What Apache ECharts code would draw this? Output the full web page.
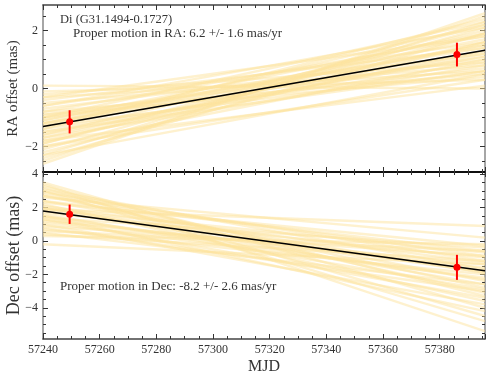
<!DOCTYPE html>
<html>
<head>
<meta charset="utf-8">
<script src="https://cdn.jsdelivr.net/npm/echarts@6/dist/echarts.min.js"></script>
<style>
  html, body { margin: 0; padding: 0; background: #fff; }
  #chart { width: 491px; height: 381px; }
</style>
</head>
<body>
<div id="chart"></div>
<script>
// 观测历元 (MJD) 和偏移量
const epochs = [57249.4, 57386.1];
const raOffset = [-1.15, 1.17];
const raErr = [0.4, 0.41];
const decOffset = [1.6, -1.58];
const decErr = [0.58, 0.75];

// 最佳拟合直线，取坐标轴两端的值
const mjdRange = [57240, 57396];
const raFit = [-1.31, 1.32];
const decFit = [1.8, -1.78];

// MCMC 样本直线：左端 (57240) 和右端 (57396) 的值
const raFanStart = [-1.3, -1.1, -1.5, -0.9, -1.7, -1.2, -1.4, -0.7, -1.9, -1.0, -1.6, -0.5, -2.1, -1.3, -0.8, -1.8,
  -0.3, -2.3, -1.1, -1.5, -0.6, -2.0, -1.2, -0.1, -2.5, -1.4, -0.9, -1.7, 0.1, -2.6, -1.0, -1.6, -0.4, -2.2, -1.3,
  -0.2, -2.4, -1.2, -0.8, -1.9, -0.3, -0.6, -2.3, -1.8, -1.0, -2.0];
const raFanEnd = [1.3, 1.5, 1.1, 1.0, 1.6, 1.7, 0.9, 1.2, 1.9, 0.7, 2.0, 0.8, 2.1, 2.2, 0.5, 1.3,
  0.6, 2.3, 1.9, 0.6, 1.6, 1.0, 1.1, 0.3, 2.5, 2.4, 0.4, 0.8, 0.0, 2.6, 1.4, 1.2, 1.4, 1.6, 0.6,
  0.9, 1.9, 1.5, 1.8, 2.2, 1.8, 2.1, 0.5, 0.1, 2.3, 0.3];
const decFanStart = [1.8, 2.1, 1.5, 2.4, 1.2, 2.7, 0.9, 3.0, 0.6, 3.3, 1.9, 1.6, 2.3, 1.3, 2.9, 0.7, 3.5, 0.3, 2.6, 1.0,
  2.0, 1.7, 3.2, -0.2, 1.9, 3.4, 1.4, 2.8, 0.5, 2.2, 1.1, 3.1, 0.8, 2.4, 1.5, 2.0, 2.7, 1.3, 3.0, 0.4];
const decFanEnd = [-1.8, -1.3, -2.3, -1.9, -1.4, -2.4, -0.9, -2.8, -0.6, -3.3, -0.7, -2.9, -0.3, -3.4, -1.2, -2.0, -4.0, -0.2, 0.2, -3.8,
  -2.6, -1.0, -4.5, -1.4, 0.9, -5.4, -0.4, -3.1, -2.6, -3.6, -2.2, -1.7, -3.0, -0.6, -4.2, -1.9, -0.9, -1.6, -4.8, -1.2];

// 刻度
const raRange = [-2.88, 2.88];
const decRange = [-5.87, 4.13];
const raTicks = [-2, 0, 2];
const raMinorTicks = [-2.5, -1.5, -1, -0.5, 0.5, 1, 1.5, 2.5];
const decTicks = [-4, -2, 0, 2, 4];
const decMinorTicks = [-5.5, -5, -4.5, -3.5, -3, -2.5, -1.5, -1, -0.5, 0.5, 1, 1.5, 2.5, 3, 3.5];

const serif = "'Liberation Serif', 'DejaVu Serif', serif";
const textColor = '#333';
const fanColor = '#fde39e';

const chart = echarts.init(document.getElementById('chart'));

function fanData(starts, ends) {
  return starts.map((s, i) => [mjdRange[0], s, mjdRange[1], ends[i]]);
}

function errData(values, errs) {
  return epochs.map((x, i) => [x, values[i], errs[i]]);
}

function renderFan(params, api) {
  const p1 = api.coord([api.value(0), api.value(1)]);
  const p2 = api.coord([api.value(2), api.value(3)]);
  return {
    type: 'line',
    shape: { x1: p1[0], y1: p1[1], x2: p2[0], y2: p2[1] },
    style: { stroke: fanColor, lineWidth: 2.4, opacity: 0.5 }
  };
}

function renderErr(params, api) {
  const x = api.value(0), y = api.value(1), e = api.value(2);
  const p1 = api.coord([x, y - e]);
  const p2 = api.coord([x, y + e]);
  return {
    type: 'line',
    shape: { x1: p1[0], y1: p1[1], x2: p2[0], y2: p2[1] },
    style: { stroke: '#ff0000', lineWidth: 2 }
  };
}

function minus(v) {
  return String(v).replace('-', '\u2212');
}

// x 轴（每个面板上下各一条）
function xAx(grid, position, showLabel, lineColor) {
  return {
    type: 'value', gridIndex: grid, position: position,
    min: mjdRange[0], max: mjdRange[1], interval: 20,
    axisLine: { onZero: false, lineStyle: { color: lineColor, width: 1.5 } },
    axisTick: { inside: true, length: 5, lineStyle: { color: '#333' } },
    minorTick: { show: true, splitNumber: 4, length: 3, lineStyle: { color: '#333' } },
    axisLabel: {
      show: showLabel, color: textColor, fontFamily: serif, fontSize: 12, margin: 5,
      showMaxLabel: false, formatter: (v) => String(v)
    },
    splitLine: { show: false }
  };
}

// y 轴：主刻度和次刻度分开
function yAx(grid, position, range, ticks, isMinor, showLabel, lineColor) {
  return {
    type: 'value', gridIndex: grid, position: position,
    min: range[0], max: range[1],
    axisLine: { show: !isMinor, onZero: false, lineStyle: { color: lineColor, width: 1.5 } },
    axisTick: { inside: true, length: isMinor ? 3 : 5, customValues: ticks, lineStyle: { color: '#333' } },
    axisLabel: {
      show: showLabel, customValues: ticks, color: textColor, fontFamily: serif, fontSize: 12, margin: 5,
      formatter: minus
    },
    splitLine: { show: false }
  };
}

const yAxes = [
  yAx(0, 'left', raRange, raTicks, false, true, '#888'),
  yAx(0, 'left', raRange, raMinorTicks, true, false, '#888'),
  yAx(0, 'right', raRange, raTicks, false, false, '#888'),
  yAx(0, 'right', raRange, raMinorTicks, true, false, '#888'),
  yAx(1, 'left', decRange, decTicks, false, true, '#888'),
  yAx(1, 'left', decRange, decMinorTicks, true, false, '#888'),
  yAx(1, 'right', decRange, decTicks, false, false, '#888'),
  yAx(1, 'right', decRange, decMinorTicks, true, false, '#888')
];
Object.assign(yAxes[0], {
  name: 'RA offset (mas)', nameLocation: 'middle', nameGap: 22, nameMoveOverlap: false,
  nameTextStyle: { fontFamily: serif, fontSize: 15, color: textColor }
});
Object.assign(yAxes[4], {
  name: 'Dec offset (mas)', nameLocation: 'middle', nameGap: 20, nameMoveOverlap: false,
  nameTextStyle: { fontFamily: serif, fontSize: 18, color: textColor }
});

const xAxes = [
  xAx(0, 'bottom', false, '#000'),
  xAx(0, 'top', false, '#444'),
  xAx(1, 'bottom', true, '#444'),
  xAx(1, 'top', false, '#000')
];
Object.assign(xAxes[2], {
  name: 'MJD', nameLocation: 'middle', nameGap: 20,
  nameTextStyle: { fontFamily: serif, fontSize: 16, color: textColor }
});

const option = {
  animation: false,
  grid: [
    { left: 43, right: 6, top: 5, height: 167, outerBoundsMode: 'none' },
    { left: 43, right: 6, top: 172, height: 167, outerBoundsMode: 'none' }
  ],
  xAxis: xAxes,
  yAxis: yAxes,
  graphic: [
    { type: 'text', left: 60, top: 13, style: { text: 'Di (G31.1494-0.1727)', font: '12.5px ' + serif, fill: textColor } },
    { type: 'text', left: 73, top: 27, style: { text: 'Proper motion in RA: 6.2 +/- 1.6 mas/yr', font: '13px ' + serif, fill: textColor } },
    { type: 'text', left: 60, top: 280, style: { text: 'Proper motion in Dec: -8.2 +/- 2.6 mas/yr', font: '13px ' + serif, fill: textColor } }
  ],
  series: [
    { type: 'custom', xAxisIndex: 0, yAxisIndex: 0, data: fanData(raFanStart, raFanEnd), renderItem: renderFan, clip: true, silent: true },
    { type: 'custom', xAxisIndex: 2, yAxisIndex: 4, data: fanData(decFanStart, decFanEnd), renderItem: renderFan, clip: true, silent: true },
    {
      type: 'line', xAxisIndex: 0, yAxisIndex: 0, symbol: 'none',
      data: mjdRange.map((x, i) => [x, raFit[i]]),
      lineStyle: { color: '#000', width: 1.5 }
    },
    {
      type: 'line', xAxisIndex: 2, yAxisIndex: 4, symbol: 'none',
      data: mjdRange.map((x, i) => [x, decFit[i]]),
      lineStyle: { color: '#000', width: 1.5 }
    },
    { type: 'custom', xAxisIndex: 0, yAxisIndex: 0, data: errData(raOffset, raErr), renderItem: renderErr, z: 5 },
    { type: 'custom', xAxisIndex: 2, yAxisIndex: 4, data: errData(decOffset, decErr), renderItem: renderErr, z: 5 },
    {
      type: 'scatter', xAxisIndex: 0, yAxisIndex: 0, symbolSize: 7, z: 6,
      data: epochs.map((x, i) => [x, raOffset[i]]), itemStyle: { color: '#ff0000', opacity: 1 }
    },
    {
      type: 'scatter', xAxisIndex: 2, yAxisIndex: 4, symbolSize: 7, z: 6,
      data: epochs.map((x, i) => [x, decOffset[i]]), itemStyle: { color: '#ff0000', opacity: 1 }
    }
  ]
};

chart.setOption(option);
</script>
</body>
</html>
